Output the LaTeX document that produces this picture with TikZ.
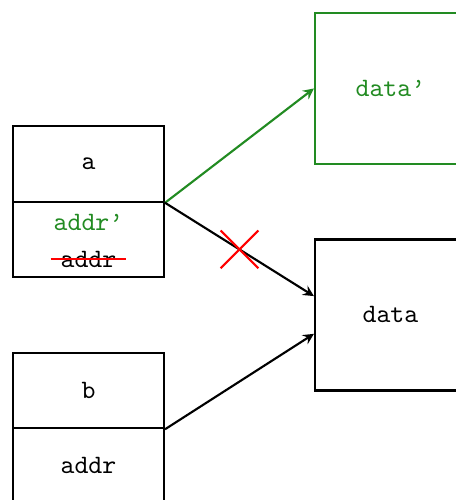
\documentclass[tikz,border=0pt]{standalone}
\usetikzlibrary{positioning}
\definecolor{newgreen}{RGB}{34,139,34}
\begin{document}
\begin{tikzpicture}[thick,>=stealth]
\tikzstyle{cell}=[draw,minimum width=2cm,minimum height=1cm,font=\ttfamily]
\tikzstyle{blk}=[draw,minimum width=2cm,minimum height=2cm,font=\ttfamily]
\tikzstyle{txt}=[font=\ttfamily]
\useasboundingbox (-0.172,-4.951) rectangle (5.868,1.672);
\node[cell] (atop) at (1,-0.5) {a};
\node[cell] (alow) at (1,-1.5) {};
\node[txt,text=newgreen] (newaddr) at (1,-1.28) {addr’};
\node[txt] (oldaddr) at (1,-1.76) {addr};
\draw[red] (oldaddr.west) -- (oldaddr.east);
\node[cell] (btop) at (1,-3.5) {b};
\node[cell] (blow) at (1,-4.5) {addr};
\node[blk,draw=newgreen,text=newgreen] (newdata) at (5,0.5) {data’};
\node[blk] (data) at (5,-2.5) {data};
\draw[->,newgreen] (atop.south east) -- (newdata.west);
\draw[->] (atop.south east) -- coordinate[midway] (cut) ([yshift=0.25cm]data.west);
\draw[red] (cut) ++(-0.25,-0.25) -- ++(0.5,0.5);
\draw[red] (cut) ++(-0.25,0.25) -- ++(0.5,-0.5);
\draw[->] (btop.south east) -- ([yshift=-0.25cm]data.west);
\end{tikzpicture}
\end{document}
